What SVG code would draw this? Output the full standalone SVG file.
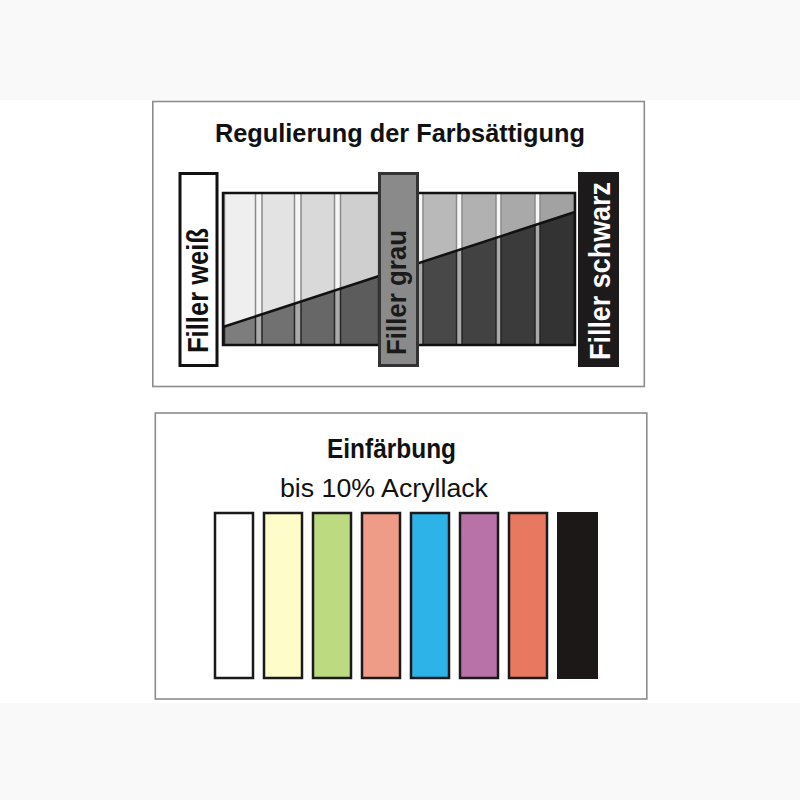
<svg xmlns="http://www.w3.org/2000/svg" width="800" height="800" viewBox="0 0 800 800">
<style>
.panel{fill:#fff;stroke:#8c8c8c;stroke-width:1.6}
.t{font-family:"Liberation Sans",Arial,sans-serif}
.up rect{stroke:#8a8a8a;stroke-width:1.5}
.lo rect{stroke:#262626;stroke-width:1.5}
.bar{stroke:#1a1a1a;stroke-width:2.5}
</style>
<defs>
<clipPath id="cu"><polygon points="223,193 575,193 575,212 223,327"/></clipPath>
<clipPath id="cl"><polygon points="223,327 575,212 575,345 223,345"/></clipPath>
</defs>
<rect x="0" y="0" width="800" height="800" fill="#fff"/>
<rect x="0" y="0" width="800" height="100" fill="#f9f9f9"/>
<rect x="0" y="703" width="800" height="97" fill="#f9f9f9"/>

<g id="panel-top">
<rect class="panel" x="152.8" y="101.5" width="491.5" height="285"/>
<text class="t" x="400" y="142" text-anchor="middle" font-size="26.5" font-weight="bold" textLength="370" lengthAdjust="spacingAndGlyphs" fill="#111">Regulierung der Farbsättigung</text>
</g>

<g id="strip">
<g clip-path="url(#cu)">
<rect x="223" y="193" width="352" height="152" fill="#f6f6f6"/>
<g class="up">
<rect x="224.5" y="190" width="31" height="160" fill="#efefef"/>
<rect x="262" y="190" width="32.5" height="160" fill="#e3e3e3"/>
<rect x="301" y="190" width="33.5" height="160" fill="#d9d9d9"/>
<rect x="340.5" y="190" width="38" height="160" fill="#cfcfcf"/>
<rect x="379" y="190" width="39" height="160" fill="#c4c4c4"/>
<rect x="423" y="190" width="33.5" height="160" fill="#b9b9b9"/>
<rect x="462" y="190" width="34" height="160" fill="#b1b1b1"/>
<rect x="501" y="190" width="34" height="160" fill="#a9a9a9"/>
<rect x="540" y="190" width="34" height="160" fill="#a2a2a2"/>
</g>
</g>
<g clip-path="url(#cl)">
<rect x="223" y="193" width="352" height="152" fill="#aaaaaa"/>
<g class="lo">
<rect x="224.5" y="190" width="31" height="160" fill="#7d7d7d"/>
<rect x="262" y="190" width="32.5" height="160" fill="#717171"/>
<rect x="301" y="190" width="33.5" height="160" fill="#676767"/>
<rect x="340.5" y="190" width="38" height="160" fill="#5c5c5c"/>
<rect x="379" y="190" width="39" height="160" fill="#525252"/>
<rect x="423" y="190" width="33.5" height="160" fill="#484848"/>
<rect x="462" y="190" width="34" height="160" fill="#424242"/>
<rect x="501" y="190" width="34" height="160" fill="#3b3b3b"/>
<rect x="540" y="190" width="34" height="160" fill="#333333"/>
</g>
</g>
<line x1="223" y1="327" x2="575" y2="212" stroke="#111" stroke-width="2.5"/>
<rect x="223" y="193" width="352" height="152" fill="none" stroke="#111" stroke-width="2.5"/>
</g>

<g id="filler-weiss">
<rect x="180" y="173.5" width="37" height="192" fill="#fff" stroke="#111" stroke-width="3"/>
<text class="t" transform="translate(208,353) rotate(-90)" font-size="29" font-weight="bold" textLength="125" lengthAdjust="spacingAndGlyphs" fill="#111">Filler weiß</text>
</g>

<g id="filler-grau">
<rect x="379.5" y="173.5" width="38" height="192" fill="#8a8a8a" stroke="#333" stroke-width="3"/>
<text class="t" transform="translate(406,355) rotate(-90)" font-size="28" font-weight="bold" textLength="125" lengthAdjust="spacingAndGlyphs" fill="#1a1a1a">Filler grau</text>
</g>

<g id="filler-schwarz">
<rect x="578" y="172" width="41" height="195" fill="#1c1a1a"/>
<text class="t" transform="translate(610,360) rotate(-90)" font-size="29" font-weight="bold" textLength="178" lengthAdjust="spacingAndGlyphs" fill="#fff">Filler schwarz</text>
</g>

<g id="panel-bottom">
<rect class="panel" x="155.3" y="413" width="491.5" height="286"/>
<text class="t" x="391.5" y="458" text-anchor="middle" font-size="27" font-weight="bold" textLength="129" lengthAdjust="spacingAndGlyphs" fill="#111">Einfärbung</text>
<text class="t" x="384" y="497" text-anchor="middle" font-size="26" textLength="208" lengthAdjust="spacingAndGlyphs" fill="#111">bis 10% Acryllack</text>
</g>

<g id="bars">
<rect class="bar" x="215" y="513" width="38" height="165" fill="#ffffff"/>
<rect class="bar" x="264" y="513" width="38" height="165" fill="#fefcc8"/>
<rect class="bar" x="313" y="513" width="38" height="165" fill="#bcdb80"/>
<rect class="bar" x="362" y="513" width="38" height="165" fill="#ee9c87"/>
<rect class="bar" x="411" y="513" width="38" height="165" fill="#2db3e8"/>
<rect class="bar" x="460" y="513" width="38" height="165" fill="#b872a8"/>
<rect class="bar" x="509" y="513" width="38" height="165" fill="#e8785f"/>
<rect x="557" y="512" width="41" height="167" fill="#1c1818"/>
</g>
</svg>
